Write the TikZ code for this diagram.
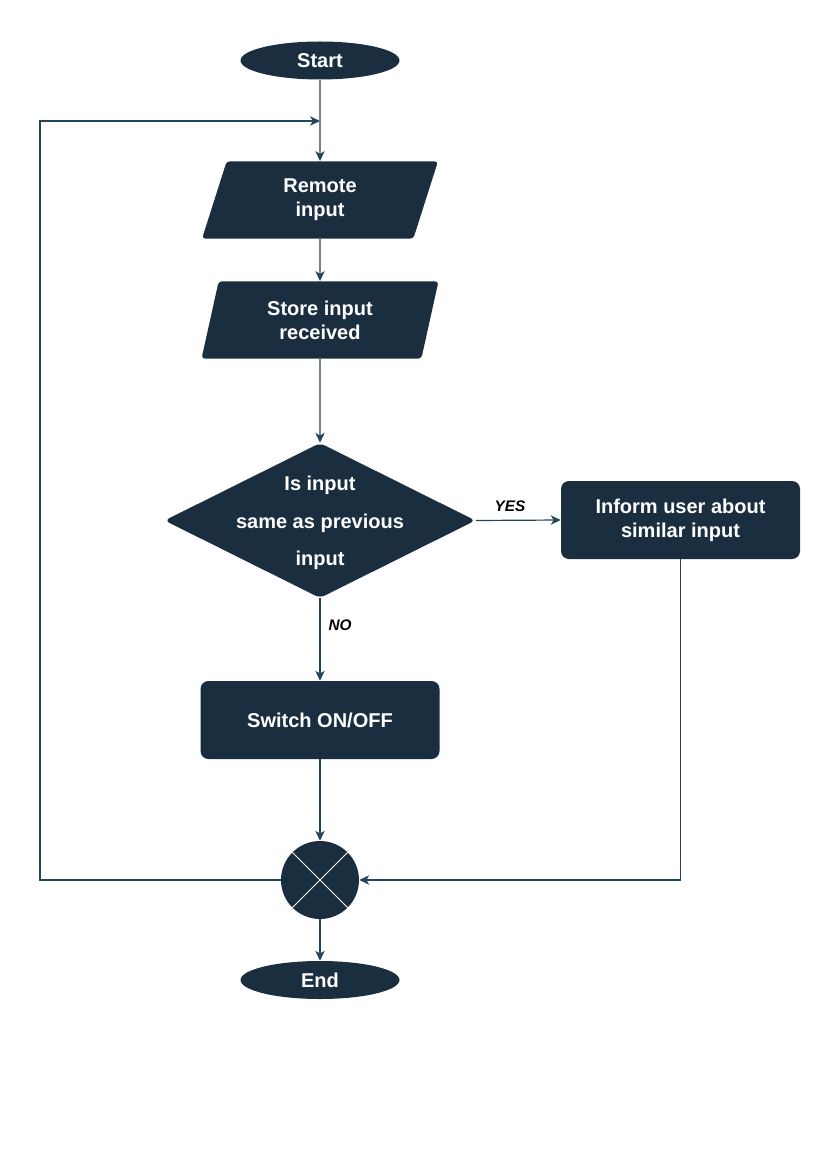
\documentclass[tikz,border=0pt]{standalone}
\usepackage{fontspec}
\setmainfont{Liberation Sans}
\usetikzlibrary{shapes.geometric,arrows.meta}
\definecolor{boxfill}{RGB}{26,46,64}
\definecolor{linec}{RGB}{35,68,93}
\tikzset{
  base/.style={fill=boxfill, draw=none, text=white, align=center, inner sep=0pt,
    font=\fontsize{15}{18}\selectfont\bfseries},
  term/.style={base, ellipse, minimum width=119.25pt, minimum height=28.5pt},
  io/.style={base, trapezium, trapezium left angle=77, trapezium right angle=103,
    trapezium stretches=true, minimum width=178pt, minimum height=58pt, rounded corners=2.5pt},
  proc/.style={base, rectangle, minimum width=179.25pt, minimum height=58.5pt, rounded corners=6pt},
  decision/.style={base, diamond, minimum width=233.25pt, minimum height=116.25pt,
    rounded corners=4pt},
  dtext/.style={text=white, align=center, inner sep=0pt,
    font=\fontsize{15}{28}\selectfont\bfseries},
  joinc/.style={base, circle, minimum size=58.5pt},
  conn/.style={draw=linec, line width=0.9pt, -{Stealth[length=7.5pt,width=7pt,inset=2.2pt]}},
  lbl/.style={font=\fontsize{11.5}{13}\selectfont\bfseries\itshape, text=black, inner sep=0pt}
}
\begin{document}
\begin{tikzpicture}[x=0.75pt,y=-0.75pt]
\useasboundingbox (0,0) rectangle (827,1169);
\node[term] (start) at (320,60.5) {Start};
\node[io] (remote) at (320,200) {Remote\\ input};
\node[io] (store) at (320,320) {Store input\\ received};
\node[decision] (dec) at (320,520.5) {};
\node[dtext] (dect) at (320,523) {Is input\\ same as previous\\ input};
\node[proc] (inform) at (680.5,520) {Inform user about\\ similar input};
\node[proc] (switch) at (320,720) {Switch ON/OFF};
\node[joinc] (x) at (320,880) {};
\node[term] (end) at (320,980) {End};
\draw[white, line width=0.7pt] (x.north east) -- (x.south west);
\draw[white, line width=0.7pt] (x.north west) -- (x.south east);
\coordinate (j) at (320,121);
\coordinate (l) at (40,880);
\draw[conn] (start.south) -- (remote.north);
\draw[conn] (remote.south) -- (store.north);
\draw[conn] (store.south) -- (dec.north);
\draw[conn] (dec.east) -- (inform.west);
\draw[conn] (dec.south) -- (switch.north);
\draw[conn] (switch.south) -- (x.north);
\draw[conn] (inform.south) |- (x.east);
\draw[conn] (x.west) -- (l) |- (j);
\draw[conn] (x.south) -- (end.north);
\node[lbl] (yes) at (510,506.5) {YES};
\node[lbl] (no) at (340,625) {NO};
\end{tikzpicture}
\end{document}
